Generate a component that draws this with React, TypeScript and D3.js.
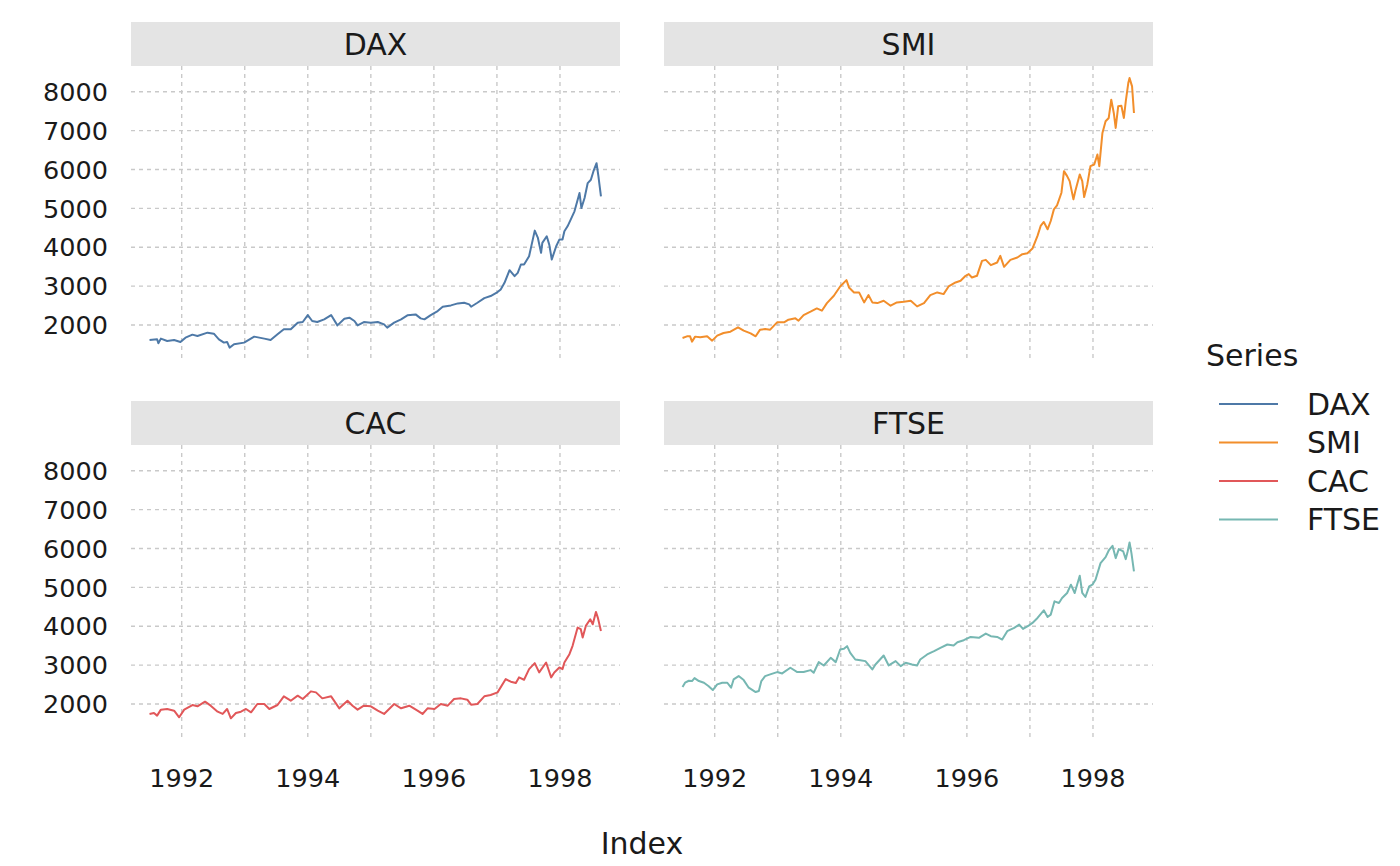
import * as d3 from 'd3';

// Series names and palette
const SERIES = ['DAX', 'SMI', 'CAC', 'FTSE'];
const COLORS = ['#4e79a7', '#f28e2b', '#e15759', '#76b7b2'];

const Y_TICKS = [2000, 3000, 4000, 5000, 6000, 7000, 8000];
const X_TICKS = [1992, 1994, 1996, 1998];
const X_GRID = [1992, 1993, 1994, 1995, 1996, 1997, 1998];

// Values (decimal year, index level)
const DAX_T = [1991.49, 1991.61, 1991.63, 1991.67, 1991.77, 1991.88, 1991.98, 1992.06, 1992.17, 1992.25, 1992.41, 1992.51, 1992.59, 1992.67, 1992.72, 1992.76, 1992.83, 1992.99, 1993.15, 1993.31, 1993.41, 1993.52, 1993.62, 1993.73, 1993.84, 1993.92, 1994.0, 1994.07, 1994.15, 1994.26, 1994.37, 1994.47, 1994.58, 1994.66, 1994.74, 1994.79, 1994.89, 1995.0, 1995.11, 1995.21, 1995.26, 1995.37, 1995.48, 1995.58, 1995.71, 1995.79, 1995.85, 1995.95, 1996.06, 1996.14, 1996.27, 1996.38, 1996.48, 1996.56, 1996.59, 1996.69, 1996.8, 1996.9, 1997.01, 1997.06, 1997.12, 1997.2, 1997.28, 1997.33, 1997.38, 1997.43, 1997.51, 1997.6, 1997.65, 1997.7, 1997.72, 1997.79, 1997.83, 1997.87, 1997.94, 1997.99, 1998.04, 1998.07, 1998.12, 1998.17, 1998.23, 1998.31, 1998.34, 1998.39, 1998.44, 1998.49, 1998.53, 1998.58, 1998.61, 1998.65];
const DAX_V = [1615, 1632, 1530, 1650, 1590, 1615, 1564, 1675, 1752, 1718, 1803, 1778, 1632, 1547, 1564, 1419, 1504, 1547, 1701, 1650, 1615, 1761, 1889, 1889, 2060, 2077, 2256, 2103, 2077, 2145, 2256, 1991, 2162, 2188, 2103, 1991, 2077, 2060, 2077, 2017, 1932, 2060, 2145, 2248, 2273, 2171, 2145, 2256, 2359, 2470, 2504, 2556, 2573, 2530, 2470, 2573, 2692, 2744, 2846, 2915, 3085, 3410, 3256, 3342, 3556, 3556, 3769, 4427, 4239, 3855, 4111, 4282, 4068, 3684, 4026, 4197, 4197, 4410, 4538, 4709, 4923, 5393, 5009, 5265, 5650, 5735, 5949, 6162, 5820, 5308];

const SMI_T = [1991.49, 1991.56, 1991.61, 1991.64, 1991.69, 1991.77, 1991.88, 1991.96, 1992.04, 1992.14, 1992.25, 1992.37, 1992.46, 1992.57, 1992.65, 1992.72, 1992.8, 1992.88, 1992.99, 1993.1, 1993.17, 1993.28, 1993.33, 1993.41, 1993.52, 1993.62, 1993.7, 1993.78, 1993.89, 1993.99, 1994.09, 1994.13, 1994.21, 1994.29, 1994.37, 1994.44, 1994.5, 1994.58, 1994.68, 1994.79, 1994.89, 1995.0, 1995.11, 1995.21, 1995.32, 1995.42, 1995.53, 1995.63, 1995.71, 1995.82, 1995.9, 1995.98, 1996.03, 1996.08, 1996.16, 1996.24, 1996.3, 1996.38, 1996.48, 1996.53, 1996.59, 1996.69, 1996.8, 1996.88, 1996.96, 1997.04, 1997.12, 1997.17, 1997.22, 1997.28, 1997.33, 1997.38, 1997.43, 1997.5, 1997.54, 1997.59, 1997.63, 1997.69, 1997.72, 1997.79, 1997.83, 1997.86, 1997.91, 1997.96, 1998.02, 1998.07, 1998.1, 1998.15, 1998.2, 1998.25, 1998.29, 1998.33, 1998.36, 1998.4, 1998.45, 1998.49, 1998.52, 1998.56, 1998.58, 1998.62, 1998.65];
const SMI_V = [1667, 1709, 1709, 1573, 1701, 1684, 1709, 1598, 1726, 1795, 1829, 1940, 1855, 1786, 1709, 1880, 1897, 1880, 2068, 2068, 2137, 2171, 2111, 2256, 2342, 2427, 2368, 2564, 2752, 2991, 3154, 2966, 2838, 2838, 2581, 2769, 2581, 2564, 2624, 2496, 2581, 2598, 2624, 2479, 2564, 2769, 2838, 2795, 2991, 3094, 3137, 3265, 3308, 3222, 3265, 3650, 3675, 3539, 3607, 3778, 3496, 3675, 3735, 3821, 3846, 3966, 4291, 4547, 4650, 4462, 4675, 4974, 5077, 5402, 5957, 5829, 5701, 5231, 5444, 5872, 5701, 5291, 5615, 6085, 6128, 6385, 6085, 6940, 7239, 7325, 7795, 7453, 7068, 7624, 7641, 7325, 7752, 8222, 8350, 8137, 7453];

const CAC_T = [1991.49, 1991.56, 1991.61, 1991.67, 1991.77, 1991.88, 1991.96, 1992.04, 1992.17, 1992.25, 1992.37, 1992.46, 1992.57, 1992.65, 1992.72, 1992.78, 1992.86, 1992.94, 1993.02, 1993.1, 1993.2, 1993.31, 1993.39, 1993.52, 1993.62, 1993.73, 1993.84, 1993.92, 1994.05, 1994.13, 1994.23, 1994.37, 1994.5, 1994.63, 1994.71, 1994.79, 1994.89, 1995.0, 1995.11, 1995.21, 1995.37, 1995.48, 1995.61, 1995.74, 1995.82, 1995.9, 1996.01, 1996.11, 1996.22, 1996.32, 1996.43, 1996.53, 1996.59, 1996.69, 1996.8, 1996.9, 1997.01, 1997.14, 1997.22, 1997.3, 1997.35, 1997.43, 1997.51, 1997.6, 1997.67, 1997.78, 1997.86, 1997.91, 1997.99, 1998.04, 1998.07, 1998.15, 1998.2, 1998.28, 1998.33, 1998.36, 1998.41, 1998.48, 1998.52, 1998.57, 1998.6, 1998.65];
const CAC_V = [1744, 1769, 1701, 1855, 1872, 1829, 1658, 1855, 1974, 1940, 2060, 1957, 1803, 1744, 1872, 1632, 1769, 1803, 1872, 1786, 2000, 2000, 1872, 1974, 2197, 2085, 2214, 2128, 2325, 2299, 2145, 2197, 1889, 2085, 1957, 1855, 1957, 1940, 1829, 1744, 2000, 1889, 1957, 1829, 1744, 1889, 1872, 2000, 1957, 2128, 2145, 2111, 1983, 2000, 2197, 2231, 2299, 2641, 2573, 2538, 2684, 2624, 2897, 3051, 2812, 3068, 2684, 2812, 2940, 2897, 3068, 3282, 3496, 3966, 3923, 3709, 4009, 4180, 4051, 4368, 4222, 3880];

const FTSE_T = [1991.49, 1991.53, 1991.59, 1991.64, 1991.68, 1991.75, 1991.83, 1991.9, 1991.97, 1992.04, 1992.12, 1992.2, 1992.26, 1992.3, 1992.38, 1992.46, 1992.54, 1992.65, 1992.7, 1992.74, 1992.8, 1992.88, 1992.99, 1993.07, 1993.2, 1993.31, 1993.41, 1993.52, 1993.57, 1993.65, 1993.73, 1993.84, 1993.92, 1993.99, 1994.05, 1994.1, 1994.15, 1994.23, 1994.31, 1994.39, 1994.5, 1994.55, 1994.68, 1994.76, 1994.87, 1994.95, 1995.03, 1995.13, 1995.21, 1995.26, 1995.37, 1995.48, 1995.58, 1995.69, 1995.79, 1995.85, 1995.95, 1996.06, 1996.19, 1996.3, 1996.38, 1996.48, 1996.56, 1996.64, 1996.75, 1996.83, 1996.89, 1996.98, 1997.04, 1997.12, 1997.22, 1997.28, 1997.33, 1997.39, 1997.46, 1997.51, 1997.59, 1997.65, 1997.71, 1997.79, 1997.83, 1997.88, 1997.94, 1997.99, 1998.04, 1998.12, 1998.2, 1998.25, 1998.31, 1998.36, 1998.41, 1998.48, 1998.52, 1998.55, 1998.58, 1998.61, 1998.65];
const FTSE_V = [2436, 2547, 2598, 2590, 2667, 2590, 2547, 2462, 2359, 2504, 2547, 2547, 2419, 2632, 2718, 2615, 2419, 2308, 2333, 2590, 2718, 2761, 2821, 2786, 2932, 2821, 2821, 2872, 2803, 3077, 2991, 3188, 3077, 3402, 3419, 3487, 3316, 3145, 3128, 3103, 2889, 3017, 3248, 2991, 3103, 2974, 3060, 3017, 2991, 3145, 3274, 3359, 3444, 3530, 3504, 3590, 3641, 3726, 3701, 3812, 3744, 3726, 3658, 3872, 3957, 4043, 3932, 4017, 4085, 4214, 4410, 4239, 4299, 4641, 4598, 4726, 4855, 5068, 4855, 5299, 4855, 4752, 5026, 5068, 5197, 5624, 5778, 5949, 6068, 5752, 5983, 5923, 5726, 5923, 6154, 5880, 5410];

const TIMES = [DAX_T, SMI_T, CAC_T, FTSE_T];
const VALUES = [DAX_V, SMI_V, CAC_V, FTSE_V];

const WIDTH = 1400;
const HEIGHT = 866;
const PANEL_W = 489;
const PANEL_H = 294;
const STRIP_H = 44;
const COL_X = [131, 664];
const ROW_Y = [22, 401];
const FONT = '"DejaVu Sans", sans-serif';
const GRID = '#c9c9c9';
const TEXT = '#1a1a1a';

const x = d3.scaleLinear().domain([1991.196, 1998.952]).range([0, PANEL_W]);
const y = d3.scaleLinear().domain([1100, 8661]).range([PANEL_H, 0]);

const line = d3
  .line<[number, number]>()
  .x((d) => x(d[0]))
  .y((d) => y(d[1]));

function Facet({ idx }: { idx: number }) {
  const col = idx % 2;
  const row = Math.floor(idx / 2);
  const left = COL_X[col];
  const top = ROW_Y[row];
  const pts = TIMES[idx].map((t, i) => [t, VALUES[idx][i]] as [number, number]);

  return (
    <g>
      {/* strip */}
      <rect x={left} y={top} width={PANEL_W} height={STRIP_H} fill="#e4e4e4" />
      <text
        x={left + PANEL_W / 2}
        y={top + STRIP_H / 2}
        dy="0.36em"
        textAnchor="middle"
        fontSize={30}
        fill={TEXT}
      >
        {SERIES[idx]}
      </text>

      <g transform={`translate(${left},${top + STRIP_H})`}>
        {/* grid */}
        {X_GRID.map((t) => (
          <line
            key={`gx${t}`}
            x1={x(t)}
            x2={x(t)}
            y1={0}
            y2={PANEL_H}
            stroke={GRID}
            strokeWidth={1.4}
            strokeDasharray="4,4"
          />
        ))}
        {Y_TICKS.map((v) => (
          <line
            key={`gy${v}`}
            x1={0}
            x2={PANEL_W}
            y1={y(v)}
            y2={y(v)}
            stroke={GRID}
            strokeWidth={1.4}
            strokeDasharray="4,4"
          />
        ))}

        <path
          d={line(pts) ?? ''}
          fill="none"
          stroke={COLORS[idx]}
          strokeWidth={2}
          strokeLinejoin="round"
        />

        {/* y labels on left column only */}
        {col === 0 &&
          Y_TICKS.map((v) => (
            <text key={`ly${v}`} x={-23} y={y(v)} dy="0.36em" textAnchor="end" fontSize={25.5} fill={TEXT}>
              {v}
            </text>
          ))}

        {/* x labels on bottom row only */}
        {row === 1 &&
          X_TICKS.map((t) => (
            <text key={`lx${t}`} x={x(t)} y={PANEL_H + 48} textAnchor="middle" fontSize={25.5} fill={TEXT}>
              {t}
            </text>
          ))}
      </g>
    </g>
  );
}

function Legend() {
  return (
    <g>
      <text x={1206} y={366} fontSize={30} fill={TEXT}>
        Series
      </text>
      {SERIES.map((s, i) => {
        const cy = 404 + i * 38.5;
        return (
          <g key={s}>
            <line x1={1219} x2={1278} y1={cy} y2={cy} stroke={COLORS[i]} strokeWidth={2} />
            <text x={1307} y={cy} dy="0.36em" fontSize={30} fill={TEXT}>
              {s}
            </text>
          </g>
        );
      })}
    </g>
  );
}

export default function App() {
  return (
    <div style={{ position: 'absolute', left: 0, top: 0 }}>
      <svg width={WIDTH} height={HEIGHT} viewBox={`0 0 ${WIDTH} ${HEIGHT}`} fontFamily={FONT} style={{ display: 'block', background: '#fff' }}>
        {SERIES.map((s, i) => (
          <Facet key={s} idx={i} />
        ))}
        <Legend />
        <text x={642} y={854} textAnchor="middle" fontSize={30} fill={TEXT}>
          Index
        </text>
      </svg>
    </div>
  );
}
